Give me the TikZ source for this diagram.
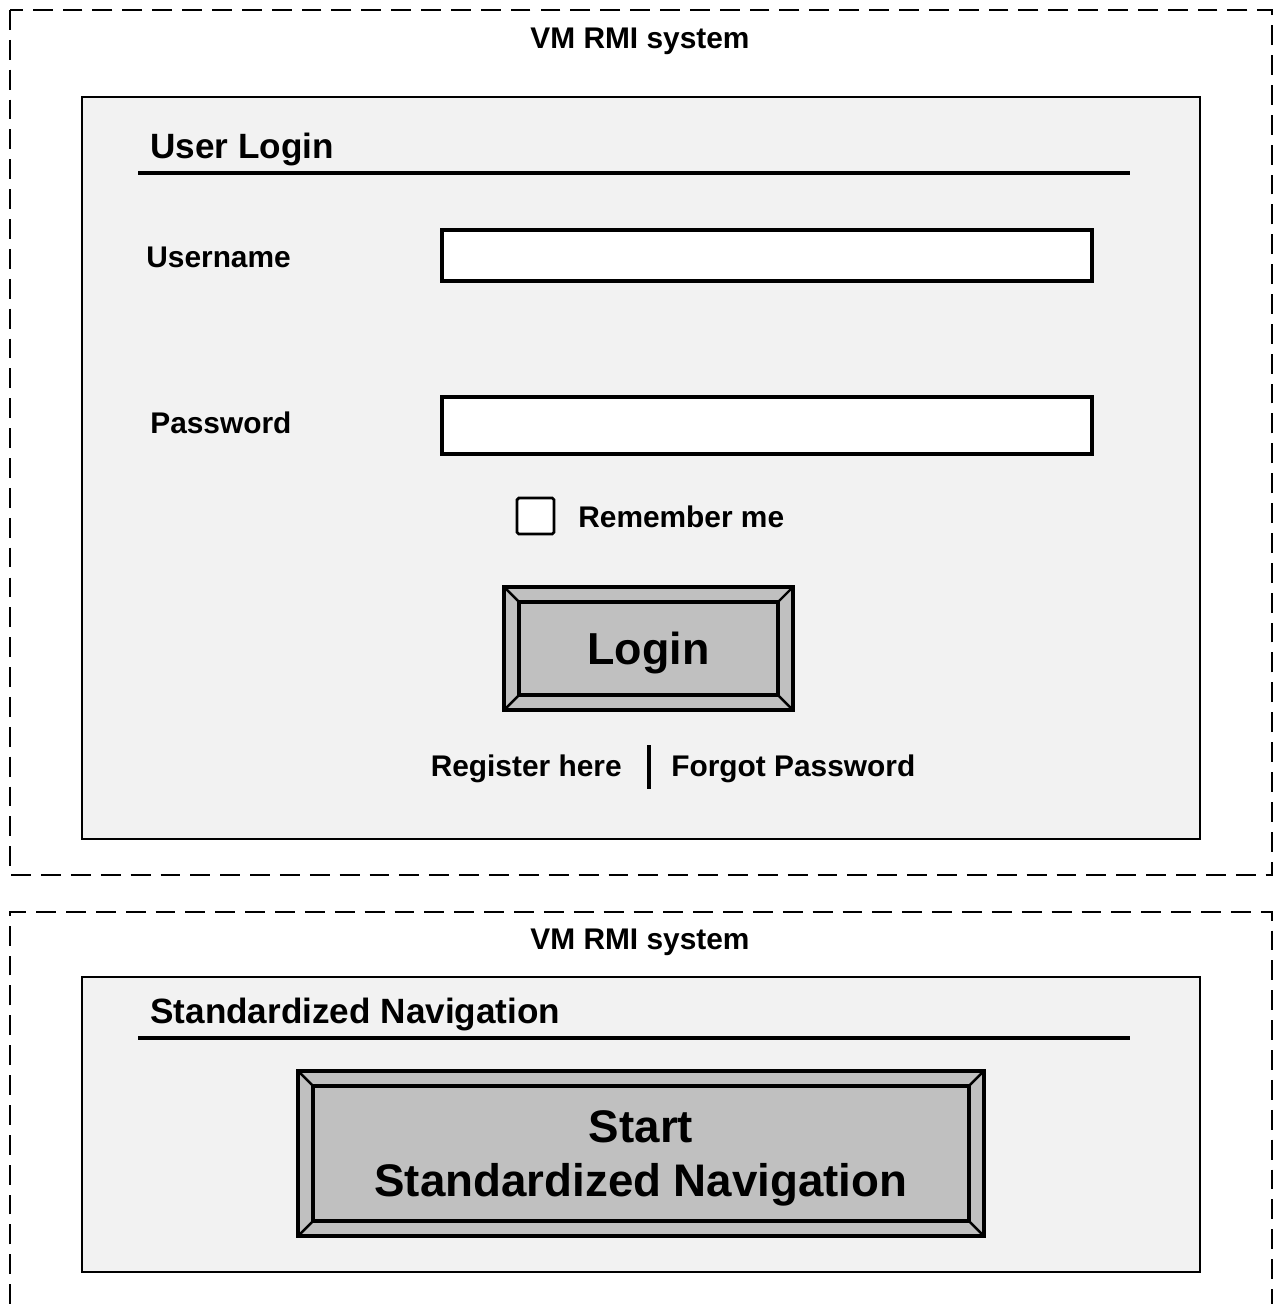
\documentclass[tikz,border=0pt]{standalone}
\usepackage{fontspec}
\setmainfont{Liberation Sans}
\usepackage{xcolor}
\usepackage{tikz}
\definecolor{panel}{HTML}{F2F2F2}
\definecolor{btngray}{HTML}{C0C0C0}
\tikzset{frame/.style={line width=1.5pt,dash pattern=on 11.3pt off 5.7pt},
  panelbox/.style={draw,line width=1.4pt,fill=panel},
  field/.style={draw,line width=2pt,fill=white},
  headrule/.style={line width=2.4pt},
  lbl/.style={inner sep=0pt,font=\bfseries\fontsize{17}{20}\selectfont},
  head/.style={inner sep=0pt,anchor=west,font=\bfseries\fontsize{20}{24}\selectfont},
  bevel btn/.style={draw,line width=2pt,fill=btngray,inner sep=0pt,align=center,text depth=0pt,
    path picture={
      \draw[line width=1.9pt] ([shift={(0.3cm,0.3cm)}]path picture bounding box.south west)
        rectangle ([shift={(-0.3cm,-0.3cm)}]path picture bounding box.north east);
      \draw[line width=1.4pt] (path picture bounding box.south west) -- ++(0.3cm,0.3cm)
        (path picture bounding box.north west) -- ++(0.3cm,-0.3cm)
        (path picture bounding box.north east) -- ++(-0.3cm,-0.3cm)
        (path picture bounding box.south east) -- ++(-0.3cm,0.3cm);
    }}}
\begin{document}
\begin{tikzpicture}[x=0.02cm,y=-0.02cm]
  \useasboundingbox (0,0) rectangle (1277,1304);
  % login screen
  \draw[frame] (10,10) rectangle (1272,875);
  \node[lbl] (sys1) at (640,41) {VM RMI system};
  \draw[panelbox] (82,97) rectangle (1200,839);
  \node[head] (login title) at (150,149) {User Login};
  \draw[headrule] (138,173) -- (1130,173);
  \node[lbl,anchor=west] (user) at (146,257) {Username};
  \draw[field] (442,230) rectangle (1092,281);
  \node[lbl,anchor=west] (pass) at (150,423) {Password};
  \draw[field] (442,397) rectangle (1092,454);
  \draw[line width=1.6pt,fill=white,rounded corners=1pt] (517,498) rectangle (554,534);
  \node[lbl,anchor=west] (remember) at (578,517) {Remember me};
  \node[bevel btn,minimum width=5.78cm,minimum height=2.46cm,
    font=\bfseries\fontsize{25.5}{30}\selectfont] (loginbtn) at (648.5,648.5) {Login};
  \node[lbl,anchor=east] (register) at (622,769) {Register here};
  \node[lbl,anchor=west] (forgot) at (671,769) {Forgot Password};
  \draw[line width=2.4pt] (649,745) -- (649,789);
  % navigation screen
  \draw[frame] (10,1304) -- (10,912) -- (1272,912) -- (1272,1304);
  \node[lbl] (sys2) at (640,942) {VM RMI system};
  \draw[panelbox] (82,977) rectangle (1200,1272);
  \node[head] (nav title) at (150,1014) {Standardized Navigation};
  \draw[headrule] (138,1038) -- (1130,1038);
  \node[bevel btn,minimum width=13.72cm,minimum height=3.3cm,
    font=\bfseries\fontsize{26}{31}\selectfont] (navbtn) at (641,1153.5)
    {Start\\Standardized Navigation};
\end{tikzpicture}
\end{document}
